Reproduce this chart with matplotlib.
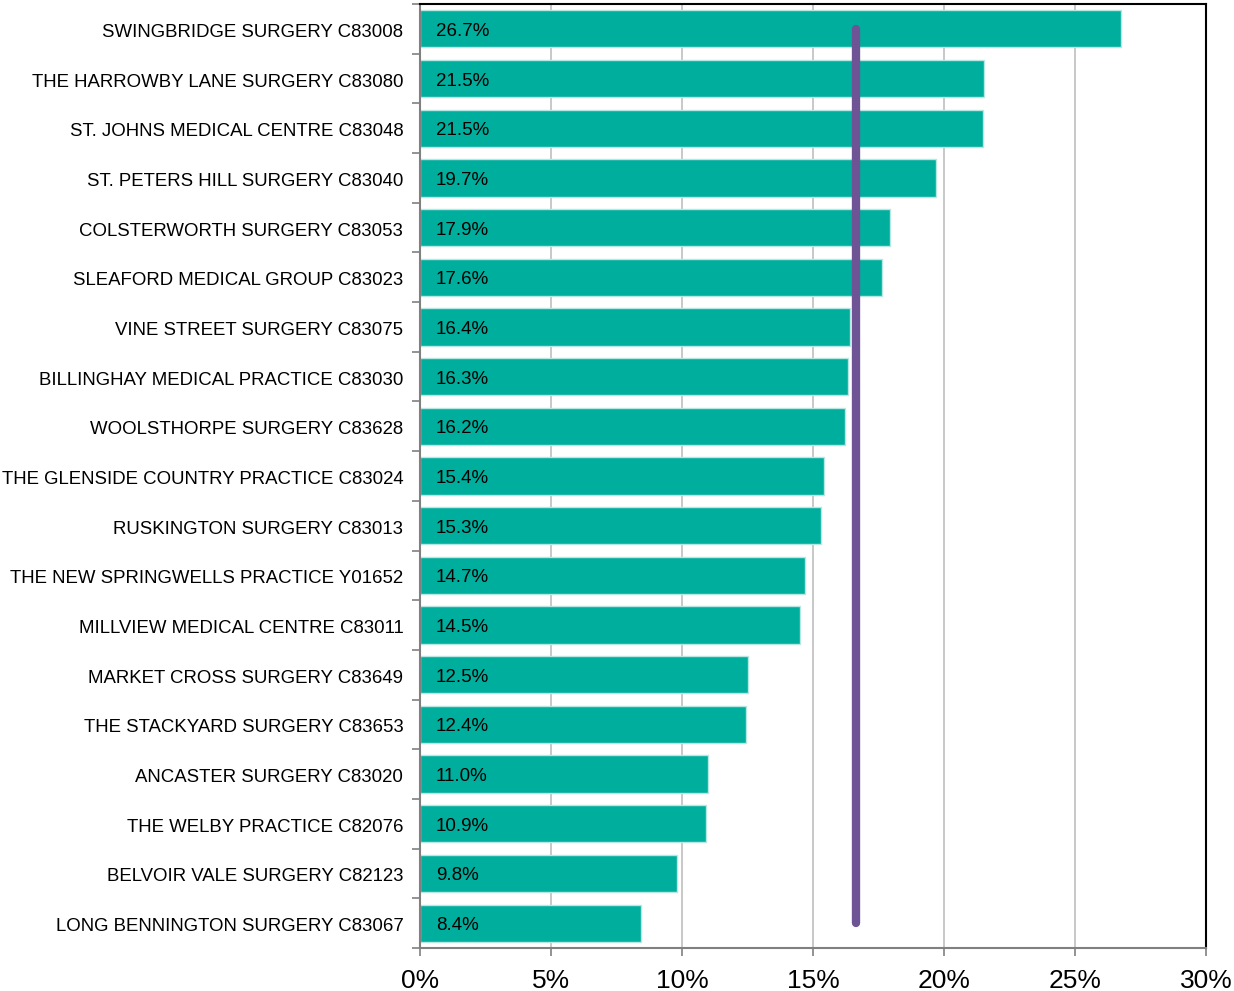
import matplotlib.pyplot as plt
from matplotlib.ticker import FuncFormatter, FixedLocator

plt.rcParams['font.family'] = ['Liberation Sans', 'DejaVu Sans']

# practices, top to bottom
practices = [
    "SWINGBRIDGE SURGERY C83008",
    "THE HARROWBY LANE SURGERY C83080",
    "ST. JOHNS MEDICAL CENTRE C83048",
    "ST. PETERS HILL SURGERY C83040",
    "COLSTERWORTH SURGERY C83053",
    "SLEAFORD MEDICAL GROUP C83023",
    "VINE STREET SURGERY C83075",
    "BILLINGHAY MEDICAL PRACTICE C83030",
    "WOOLSTHORPE SURGERY C83628",
    "THE GLENSIDE COUNTRY PRACTICE C83024",
    "RUSKINGTON SURGERY C83013",
    "THE NEW SPRINGWELLS PRACTICE Y01652",
    "MILLVIEW MEDICAL CENTRE C83011",
    "MARKET CROSS SURGERY C83649",
    "THE STACKYARD SURGERY C83653",
    "ANCASTER SURGERY C83020",
    "THE WELBY PRACTICE C82076",
    "BELVOIR VALE SURGERY C82123",
    "LONG BENNINGTON SURGERY C83067",
]
values = [26.7, 21.5, 21.5, 19.7, 17.9, 17.6, 16.4, 16.3, 16.2, 15.4,
          15.3, 14.7, 14.5, 12.5, 12.4, 11.0, 10.9, 9.8, 8.4]
# exact bar lengths (labels are rounded)
bar_lengths = [26.75, 21.52, 21.48, 19.68, 17.95, 17.63, 16.4, 16.33, 16.23, 15.42,
               15.32, 14.68, 14.52, 12.5, 12.46, 11.0, 10.9, 9.82, 8.45]
average = 16.65

teal = '#00AE9D'
purple = '#6E5494'

fig = plt.figure(figsize=(12.34, 9.91), dpi=100)
ax = fig.add_axes([420 / 1234, 1 - 948 / 991, 786 / 1234, 944 / 991])

y = list(range(len(practices)))
ax.barh(y, bar_lengths, height=0.75, color=teal, edgecolor='#B8E6E0', linewidth=1, zorder=2)

for yi, v in zip(y, values):
    ax.text(0.6, yi + 0.05, f"{v:.1f}%", va='center', ha='left', fontsize=13.5, zorder=3)

# average line
ax.plot([average, average], [y[0], y[-1]], color=purple, linewidth=6,
        solid_capstyle='round', zorder=4)

ax.set_xlim(0, 30)
ax.set_ylim(len(practices) - 0.5, -0.5)
ax.set_xticks([0, 5, 10, 15, 20, 25, 30])
ax.xaxis.set_major_formatter(FuncFormatter(lambda v, p: f"{int(v)}%"))
ax.tick_params(axis='x', labelsize=19, length=6, color='#808080', width=1.2, pad=9)
ax.xaxis.grid(True, color='#BFBFBF', linewidth=1.2, zorder=0)
ax.set_axisbelow(True)

ax.set_yticks([i + 0.03 for i in y])
ax.set_yticklabels(practices, fontsize=13.4)
ax.yaxis.set_minor_locator(FixedLocator([i - 0.5 for i in range(len(practices) + 1)]))
ax.tick_params(axis='y', which='major', length=0, pad=12)
ax.tick_params(axis='y', which='minor', length=6, color='#808080', width=1.2)

ax.spines['left'].set_color('#808080')
ax.spines['bottom'].set_color('#808080')
ax.spines['left'].set_linewidth(1.5)
ax.spines['bottom'].set_linewidth(1.5)
ax.spines['top'].set_color('black')
ax.spines['right'].set_color('black')
ax.spines['top'].set_linewidth(1.5)
ax.spines['right'].set_linewidth(1.5)

fig.savefig('out.png', dpi=100)
